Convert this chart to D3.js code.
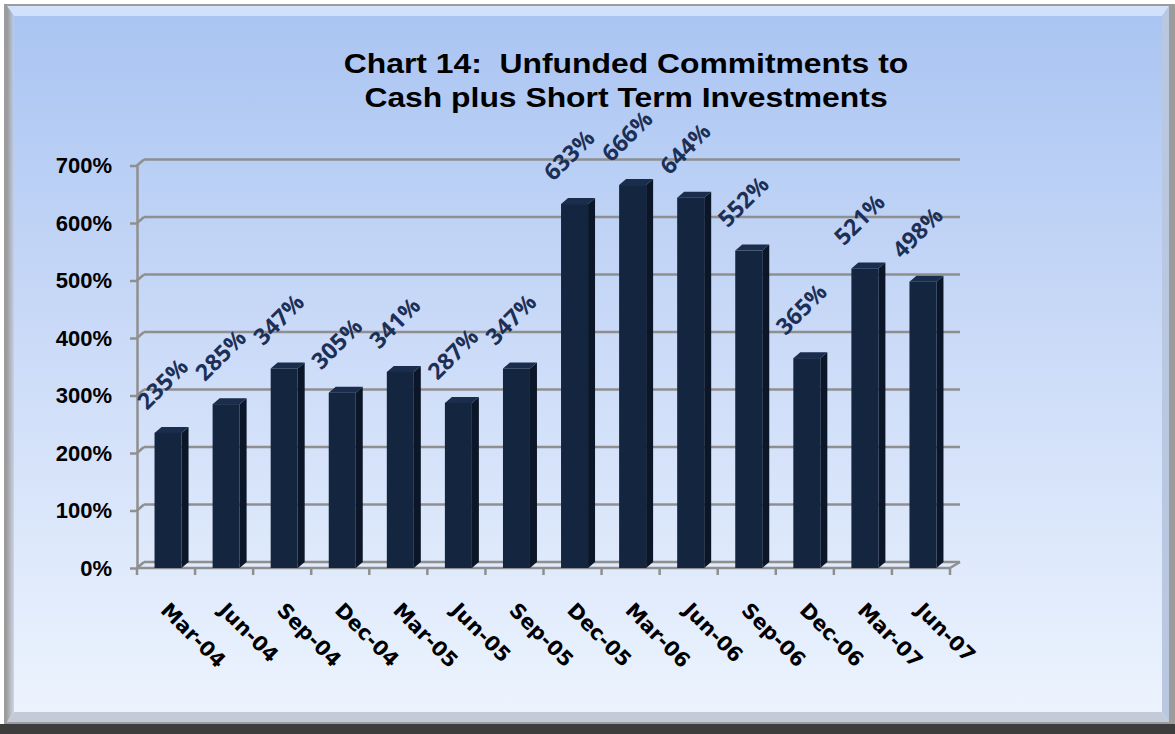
<!DOCTYPE html>
<html>
<head>
<meta charset="utf-8">
<script src="https://cdn.jsdelivr.net/npm/d3@7.9.0/dist/d3.min.js"></script>
<style>
  html, body { margin: 0; padding: 0; background: #ffffff; }
  svg { display: block; }
</style>
</head>
<body>
<svg id="chart" width="1175" height="734"></svg>
<script>
// data
const periods = ["Mar-04", "Jun-04", "Sep-04", "Dec-04", "Mar-05", "Jun-05", "Sep-05",
                 "Dec-05", "Mar-06", "Jun-06", "Sep-06", "Dec-06", "Mar-07", "Jun-07"];
const ratios = [235, 285, 347, 305, 341, 287, 347, 633, 666, 644, 552, 365, 521, 498];
const yTicks = [0, 100, 200, 300, 400, 500, 600, 700];
const titleLines = ["Chart 14:\u00a0\u00a0Unfunded Commitments to", "Cash plus Short Term Investments"];

const data = periods.map((p, i) => ({ period: p, value: ratios[i] }));

const svg = d3.select("#chart");
const W = 1175, H = 734;

// frame + panel background
const defs = svg.append("defs");
const bg = defs.append("linearGradient").attr("id", "panelGrad")
    .attr("x1", 0).attr("y1", 0).attr("x2", 0).attr("y2", 1);
bg.append("stop").attr("offset", "0%").attr("stop-color", "#a9c4f2");
bg.append("stop").attr("offset", "50%").attr("stop-color", "#cddcf8");
bg.append("stop").attr("offset", "100%").attr("stop-color", "#edf4fe");

const leftGrad = defs.append("linearGradient").attr("id", "leftGrad")
    .attr("x1", 0).attr("y1", 0).attr("x2", 1).attr("y2", 0);
leftGrad.append("stop").attr("offset", "0%").attr("stop-color", "#8e8e8e");
leftGrad.append("stop").attr("offset", "100%").attr("stop-color", "#c8cfdc");

svg.append("rect").attr("x", 4).attr("y", 4).attr("width", W - 4).attr("height", H - 4)
    .attr("fill", "#9c9c9c");
svg.append("rect").attr("x", 0).attr("y", 724).attr("width", W).attr("height", 10)
    .attr("fill", "#3d3d3d");
svg.append("rect").attr("x", 7).attr("y", 6).attr("width", 1162).attr("height", 716)
    .attr("fill", "url(#panelGrad)");
// bevels
svg.append("polygon").attr("points", "7,6 1169,6 1162,16 14,16")
    .attr("fill", "#dbe9fc").attr("opacity", 0.8);
svg.append("polygon").attr("points", "7,6 14,16 14,712 7,722")
    .attr("fill", "url(#leftGrad)").attr("opacity", 0.8);
svg.append("polygon").attr("points", "7,722 14,712 1162,712 1169,722")
    .attr("fill", "#c3cad8");
svg.append("polygon").attr("points", "1169,6 1162,16 1162,712 1169,722")
    .attr("fill", "#b9c8e0");

// scales
const x0 = 137, x1 = 950, yBase = 568, yTop = 165.5;
const dx = 7, dy = -6;
const x = d3.scaleBand().domain(periods).range([x0, x1]).paddingInner(0.535).paddingOuter(0.2675);
const y = d3.scaleLinear().domain([0, 700]).range([yBase, yTop]);
const step = x.step();

const gridColor = "#8f8f8f";

// back wall grid lines
const grid = svg.append("g");
yTicks.forEach(t => {
  const yy = y(t);
  grid.append("line").attr("x1", x0 + dx).attr("x2", x1 + dx + 3)
      .attr("y1", yy + dy).attr("y2", yy + dy)
      .attr("stroke", gridColor).attr("stroke-width", 2.5);
  grid.append("line").attr("x1", x0).attr("x2", x0 + dx)
      .attr("y1", yy).attr("y2", yy + dy)
      .attr("stroke", gridColor).attr("stroke-width", 2.5);
});
// floor
grid.append("line").attr("x1", x0).attr("x2", x1).attr("y1", yBase).attr("y2", yBase)
    .attr("stroke", gridColor).attr("stroke-width", 2.5);
grid.append("line").attr("x1", x1).attr("x2", x1 + dx + 3).attr("y1", yBase).attr("y2", yBase + dy)
    .attr("stroke", gridColor).attr("stroke-width", 2.5);

// y axis
const yAxis = d3.axisLeft(y).tickValues(yTicks).tickSize(7).tickSizeOuter(0)
    .tickFormat(d => d + "%");
const gy = svg.append("g").attr("transform", `translate(${x0},0)`).call(yAxis);
gy.select(".domain").attr("stroke", gridColor).attr("stroke-width", 2.5);
gy.selectAll(".tick line").attr("stroke", gridColor).attr("stroke-width", 2.5);
gy.selectAll(".tick text")
    .attr("x", -25)
    .attr("font-family", "'Liberation Sans', Arial, sans-serif")
    .attr("font-weight", "bold").attr("font-size", 22).attr("fill", "#000");

// x ticks at category boundaries
const xt = svg.append("g");
d3.range(periods.length + 1).forEach(i => {
  const xx = x0 + i * step;
  xt.append("line").attr("x1", xx).attr("x2", xx).attr("y1", yBase).attr("y2", yBase + 7)
      .attr("stroke", gridColor).attr("stroke-width", 2.5);
});

// bars (pseudo 3d)
const bars = svg.append("g");
const bw = x.bandwidth();
data.forEach(d => {
  const bx = x(d.period) + 2;
  const by = y(d.value);
  bars.append("polygon")
      .attr("points", `${bx + bw},${by} ${bx + bw + dx},${by + dy} ${bx + bw + dx},${yBase + dy} ${bx + bw},${yBase}`)
      .attr("fill", "#0b1628");
  bars.append("polygon")
      .attr("points", `${bx},${by} ${bx + dx},${by + dy} ${bx + bw + dx},${by + dy} ${bx + bw},${by}`)
      .attr("fill", "#1a2d4c");
  bars.append("rect").attr("x", bx).attr("y", by).attr("width", bw).attr("height", yBase - by)
      .attr("fill", "#13253f");
});

// value labels
svg.append("g").selectAll("text").data(data).join("text")
    .attr("transform", d => `translate(${x(d.period) + bw / 2 - 19},${y(d.value) - 22}) rotate(-45)`)
    .attr("font-family", "'Open Sans', sans-serif")
    .attr("font-style", "normal")
    .attr("font-weight", 700).attr("font-size", 23).attr("fill", "#1c3057")
    .text(d => d.value + "%");

// category labels
svg.append("g").selectAll("text").data(periods).join("text")
    .attr("transform", p => `translate(${x(p) + bw / 2 + 4},${601}) rotate(45)`)
    .attr("y", "0.72em")
    .attr("font-family", "'DejaVu Sans', Verdana, sans-serif")
    .attr("font-weight", "bold").attr("font-size", 20.5).attr("fill", "#000")
    .text(p => p);

// title (reference type is a little wider than Arial)
svg.append("g").selectAll("text").data(titleLines).join("text")
    .attr("transform", (d, i) => `translate(626,${72.5 + i * 34}) scale(1.18,1)`)
    .attr("text-anchor", "middle")
    .attr("font-family", "'Liberation Sans', Arial, sans-serif")
    .attr("font-weight", "bold").attr("font-size", 27).attr("fill", "#000")
    .text(d => d);
</script>
</body>
</html>
